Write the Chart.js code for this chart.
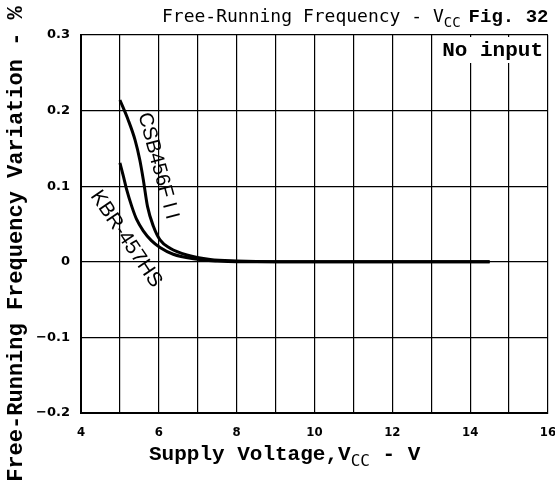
<!DOCTYPE html>
<html>
<head>
<meta charset="utf-8">
<script src="https://cdn.jsdelivr.net/npm/chart.js@4"></script>
<style>
html,body{margin:0;padding:0;background:#fff;}
canvas{display:block;}
</style>
</head>
<body>
<canvas id="c" width="555" height="486"></canvas>
<script>
// Data
const csbX = [5.0, 5.21, 5.39, 5.51, 5.6, 5.71, 5.86, 6.03, 6.29, 6.72, 7.32, 8.0, 9.0, 10, 11, 12, 13, 14, 14.5];
const csbY = [0.214, 0.188, 0.161, 0.135, 0.109, 0.073, 0.047, 0.029, 0.018, 0.009, 0.003, 0.001, 0, 0, 0, 0, 0, 0, 0];
const kbrX = [5.0, 5.09, 5.17, 5.30, 5.43, 5.6, 5.81, 6.03, 6.37, 6.89, 7.5, 8.0, 9.0, 10, 11, 12, 13, 14, 14.5];
const kbrY = [0.131, 0.113, 0.096, 0.074, 0.056, 0.041, 0.028, 0.019, 0.010, 0.004, 0.001, 0, 0, 0, 0, 0, 0, 0, 0];
const seriesNames = ['CSB456F I I', 'KBR-457HS'];
const xMin = 4, xMax = 16, xStep = 1;
const yMin = -0.2, yMax = 0.3, yStep = 0.1;
const titleMain = 'Free-Running Frequency - V';
const titleSub = 'CC';
const titleFig = 'Fig. 32';
const xTitleMain = 'Supply Voltage,V';
const xTitleSub = 'CC';
const xTitleEnd = ' - V';
const yTitle = 'Free-Running Frequency Variation - %';
const noteText = 'No input';

const toPts = (xs, ys) => xs.map((x, i) => ({x: x, y: ys[i]}));

function fitFont(ctx, text, weight, family, target) {
  ctx.font = weight + ' 20px ' + family;
  const w = ctx.measureText(text).width;
  return 20 * target / w;
}

const decor = {
  id: 'decor',
  afterDraw(chart) {
    const ctx = chart.ctx;
    ctx.save();
    ctx.fillStyle = '#000';
    ctx.textBaseline = 'alphabetic';
    ctx.textAlign = 'left';
    // Title
    ctx.font = '18px "DejaVu Sans Mono"';
    let tx = 162;
    ctx.fillText(titleMain, tx, 22);
    tx += ctx.measureText(titleMain).width;
    ctx.font = '14px "DejaVu Sans Mono"';
    ctx.fillText(titleSub, tx, 27);
    tx += ctx.measureText(titleSub).width + 8;
    ctx.font = 'bold 19px "Liberation Mono"';
    ctx.fillText(titleFig, tx, 22);

    // No input box
    ctx.fillStyle = '#fff';
    ctx.fillRect(434, 37, 112, 26);
    ctx.fillStyle = '#000';
    ctx.font = 'bold 21px "Liberation Mono"';
    ctx.textAlign = 'right';
    ctx.fillText(noteText, 543, 56);

    // X title
    ctx.textAlign = 'left';
    ctx.font = 'bold 21px "Liberation Mono"';
    let ax = 149;
    ctx.fillText(xTitleMain, ax, 460);
    ax += ctx.measureText(xTitleMain).width;
    ctx.font = '16px "DejaVu Sans Mono"';
    ctx.fillText(xTitleSub, ax, 466);
    ax += ctx.measureText(xTitleSub).width;
    ctx.font = 'bold 21px "Liberation Mono"';
    ctx.fillText(xTitleEnd, ax, 460);

    // Y title
    ctx.save();
    ctx.translate(22, 244);
    ctx.rotate(-Math.PI / 2);
    const fs = fitFont(ctx, yTitle, 'bold', '"Liberation Mono"', 476);
    ctx.font = 'bold ' + fs.toFixed(2) + 'px "Liberation Mono"';
    ctx.textAlign = 'center';
    ctx.fillText(yTitle, 0, 0);
    ctx.restore();

    // Curve labels
    const labels = [
      {t: seriesNames[0], cx: 158, cy: 166, ang: 74.8, len: 110},
      {t: seriesNames[1], cx: 126, cy: 239, ang: 56, len: 112}
    ];
    labels.forEach(l => {
      ctx.save();
      ctx.translate(l.cx, l.cy);
      ctx.rotate(l.ang * Math.PI / 180);
      const f = fitFont(ctx, l.t, 'normal', '"Liberation Sans Narrow", "Liberation Sans"', l.len);
      ctx.font = f.toFixed(2) + 'px "Liberation Sans Narrow", "Liberation Sans"';
      ctx.textAlign = 'center';
      ctx.textBaseline = 'middle';
      ctx.fillText(l.t, 0, 0);
      ctx.restore();
    });
    ctx.restore();
  }
};

new Chart(document.getElementById('c'), {
  type: 'scatter',
  data: {
    datasets: [
      {label: seriesNames[0], data: toPts(csbX, csbY), showLine: true, borderColor: '#000', borderWidth: 3, pointRadius: 0, cubicInterpolationMode: 'monotone', fill: false},
      {label: seriesNames[1], data: toPts(kbrX, kbrY), showLine: true, borderColor: '#000', borderWidth: 3, pointRadius: 0, cubicInterpolationMode: 'monotone', fill: false}
    ]
  },
  options: {
    responsive: false,
    animation: false,
    devicePixelRatio: 1,
    layout: {padding: {top: 35, right: 7, left: 0, bottom: 0}},
    plugins: {legend: {display: false}, tooltip: {enabled: false}, title: {display: false}},
    scales: {
      x: {
        type: 'linear', min: xMin, max: xMax,
        afterFit: s => { s.height = 73; s.paddingRight = 0; s.paddingLeft = 0; },
        ticks: {
          stepSize: xStep, autoSkip: false, color: '#000', padding: 12,
          font: {family: '"DejaVu Sans Condensed", "DejaVu Sans"', weight: 'bold', size: 13},
          callback: v => (Math.round(v) % 2 === 0 ? String(Math.round(v)) : '')
        },
        grid: {color: '#000', lineWidth: 1.2, drawTicks: false},
        border: {color: '#000', width: 2}
      },
      y: {
        type: 'linear', min: yMin, max: yMax,
        afterFit: s => { s.width = 81; s.paddingTop = 0; s.paddingBottom = 0; },
        ticks: {
          stepSize: yStep, color: '#000', padding: 11,
          font: {family: '"DejaVu Sans"', weight: 'bold', size: 13},
          callback: v => { const r = Math.round(v * 10) / 10; return r === 0 ? '0' : (r < 0 ? '\u2212' : '') + Math.abs(r).toFixed(1); }
        },
        grid: {color: '#000', lineWidth: 1.2, drawTicks: false},
        border: {color: '#000', width: 2}
      }
    }
  },
  plugins: [decor]
});
</script>
</body>
</html>
